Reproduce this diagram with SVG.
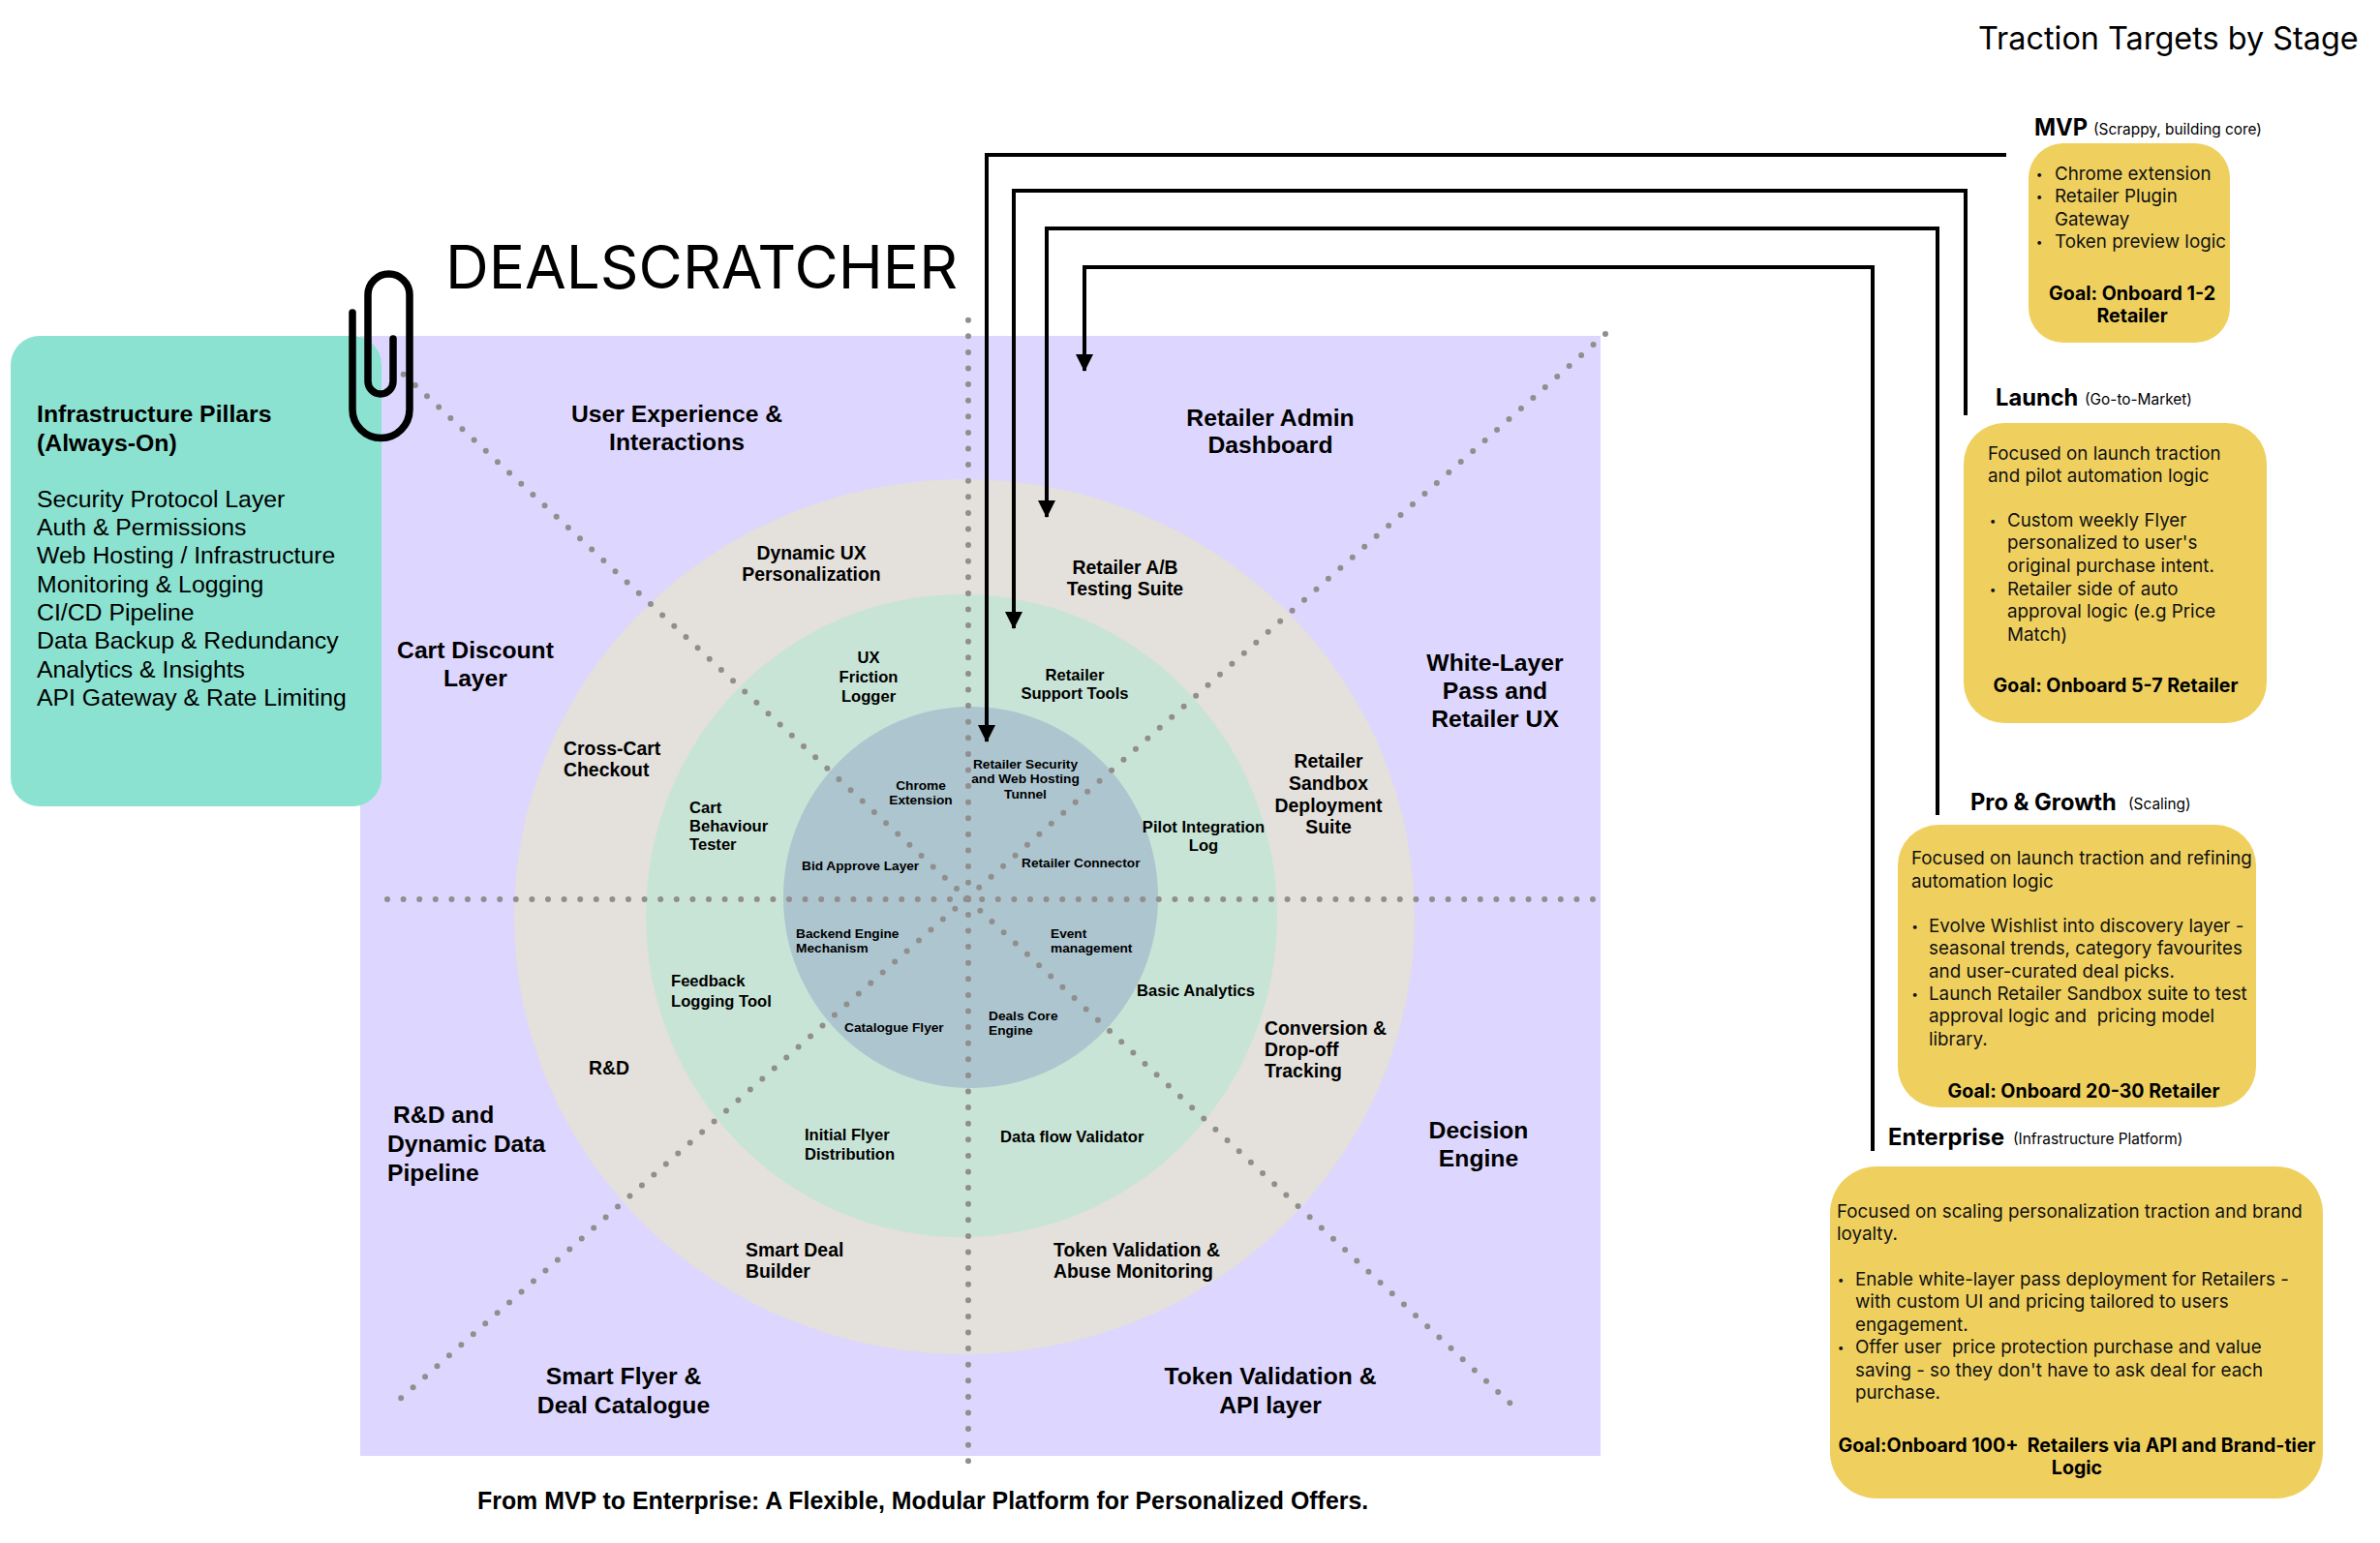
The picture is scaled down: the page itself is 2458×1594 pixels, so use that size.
<svg xmlns="http://www.w3.org/2000/svg" width="2458" height="1594" viewBox="0 0 2458 1594">
<defs>
<marker id="arr" markerUnits="userSpaceOnUse" markerWidth="18" markerHeight="18" refX="17" refY="9" orient="auto"><path d="M0 0L18 9L0 18Z" fill="#000"/></marker>
</defs>
<style>
text{font-family:"Liberation Sans",Arial,sans-serif;fill:#000}
.b{font-weight:700}
.m{text-anchor:middle}
.q{font-size:24.7px;font-weight:700}
.r1{font-size:19.4px;font-weight:700}
.r2{font-size:16.6px;font-weight:700}
.r3{font-size:13.7px;font-weight:700}
.p{font-size:24.8px}
.y{font-family:Inter,"Liberation Sans",sans-serif;font-size:18.8px;fill:#111}
.bu{font-family:Inter,"Liberation Sans",sans-serif;font-size:12px;text-anchor:middle;fill:#111}
.yb{font-family:Inter,"Liberation Sans",sans-serif;font-size:19.6px;font-weight:700;fill:#000}
.h{font-family:Inter,"Liberation Sans",sans-serif;font-size:23.7px;font-weight:700}
.s{font-family:Inter,"Liberation Sans",sans-serif;font-size:15.4px}
.t{font-family:Inter,"Liberation Sans",sans-serif}
.dot{stroke:#918e8e;stroke-width:6;stroke-linecap:round;stroke-dasharray:0 16.6;fill:none}
.con{stroke:#000;stroke-width:4;fill:none}
.card{fill:#EFD05F}
</style>
<rect id="bg" x="372" y="347" width="1281" height="1157" fill="#DDD6FE"/>
<g id="rings">
<ellipse cx="996" cy="947" rx="465" ry="452" fill="#E4E0DB"/>
<ellipse cx="993" cy="946" rx="326" ry="332" fill="#C8E4D6"/>
<ellipse cx="1002.5" cy="927" rx="193.5" ry="197" fill="#ACC5CF"/>
</g>
<g id="spokes">
<path class="dot" d="M1000 330.7V1510"/>
<path class="dot" d="M400 929H1650"/>
<path class="dot" d="M416.7 386.7L1560 1450"/>
<path class="dot" d="M1658 345L410 1448"/>
</g>
<g id="connectors">
<path class="con" marker-end="url(#arr)" d="M2072 160H1019V766"/>
<path class="con" marker-end="url(#arr)" d="M2030 429V197H1047V649"/>
<path class="con" marker-end="url(#arr)" d="M2001 842V236H1081V534"/>
<path class="con" marker-end="url(#arr)" d="M1934 1189V276H1120V383"/>
</g>
<text id="title" class="t" x="460" y="298" font-size="62">DEALSCRATCHER</text>
<text id="title2" class="t" x="2043" y="51" font-size="32.4">Traction Targets by Stage</text>
<g id="infra">
<rect x="11" y="347" width="383" height="486" rx="30" fill="#8BE2D0"/>
<text class="p b" x="38" y="436">Infrastructure Pillars</text>
<text class="p b" x="38" y="466">(Always-On)</text>
<text class="p" x="38" y="524">Security Protocol Layer</text>
<text class="p" x="38" y="553">Auth &amp; Permissions</text>
<text class="p" x="38" y="582">Web Hosting / Infrastructure</text>
<text class="p" x="38" y="612">Monitoring &amp; Logging</text>
<text class="p" x="38" y="641">CI/CD Pipeline</text>
<text class="p" x="38" y="670">Data Backup &amp; Redundancy</text>
<text class="p" x="38" y="700">Analytics &amp; Insights</text>
<text class="p" x="38" y="729">API Gateway &amp; Rate Limiting</text>
</g>
<path id="clip" d="M364 323V423a29.5 29.5 0 0 0 59 0V304.5a21.5 21.5 0 0 0-43 0V394a13 13 0 0 0 26 0V350" fill="none" stroke="#000" stroke-width="7.5" stroke-linecap="round"/>
<g id="quadrants">
<text class="q m" x="699" y="436">User Experience &amp;</text><text class="q m" x="699" y="465">Interactions</text>
<text class="q m" x="1312" y="440">Retailer Admin</text><text class="q m" x="1312" y="468">Dashboard</text>
<text class="q m" x="491" y="680">Cart Discount</text><text class="q m" x="491" y="709">Layer</text>
<text class="q m" x="1544" y="693">White-Layer</text><text class="q m" x="1544" y="722">Pass and</text><text class="q m" x="1544" y="751">Retailer UX</text>
<text class="q" x="406" y="1160">R&amp;D and</text><text class="q" x="400" y="1190">Dynamic Data</text><text class="q" x="400" y="1220">Pipeline</text>
<text class="q m" x="1527" y="1176">Decision</text><text class="q m" x="1527" y="1205">Engine</text>
<text class="q m" x="644" y="1430">Smart Flyer &amp;</text><text class="q m" x="644" y="1460">Deal Catalogue</text>
<text class="q m" x="1312" y="1430">Token Validation &amp;</text><text class="q m" x="1312" y="1460">API layer</text>
</g>
<g id="ring-outer">
<text class="r1 m" x="838" y="578">Dynamic UX</text><text class="r1 m" x="838" y="600">Personalization</text>
<text class="r1 m" x="1162" y="593">Retailer A/B</text><text class="r1 m" x="1162" y="615">Testing Suite</text>
<text class="r1" x="582" y="780">Cross-Cart</text><text class="r1" x="582" y="802">Checkout</text>
<text class="r1 m" x="1372" y="793">Retailer</text><text class="r1 m" x="1372" y="816">Sandbox</text><text class="r1 m" x="1372" y="839">Deployment</text><text class="r1 m" x="1372" y="861">Suite</text>
<text class="r1" x="608" y="1110">R&amp;D</text>
<text class="r1" x="1306" y="1069">Conversion &amp;</text><text class="r1" x="1306" y="1091">Drop-off</text><text class="r1" x="1306" y="1113">Tracking</text>
<text class="r1" x="770" y="1298">Smart Deal</text><text class="r1" x="770" y="1320">Builder</text>
<text class="r1" x="1088" y="1298">Token Validation &amp;</text><text class="r1" x="1088" y="1320">Abuse Monitoring</text>
</g>
<g id="ring-middle">
<text class="r2 m" x="897" y="685">UX</text><text class="r2 m" x="897" y="705">Friction</text><text class="r2 m" x="897" y="725">Logger</text>
<text class="r2 m" x="1110" y="703">Retailer</text><text class="r2 m" x="1110" y="722">Support Tools</text>
<text class="r2" x="712" y="840">Cart</text><text class="r2" x="712" y="859">Behaviour</text><text class="r2" x="712" y="878">Tester</text>
<text class="r2 m" x="1243" y="860">Pilot Integration</text><text class="r2 m" x="1243" y="879">Log</text>
<text class="r2" x="693" y="1019">Feedback</text><text class="r2" x="693" y="1040">Logging Tool</text>
<text class="r2" x="1174" y="1029">Basic Analytics</text>
<text class="r2" x="831" y="1178">Initial Flyer</text><text class="r2" x="831" y="1198">Distribution</text>
<text class="r2" x="1033" y="1180">Data flow Validator</text>
</g>
<g id="ring-inner">
<text class="r3 m" x="951" y="816">Chrome</text><text class="r3 m" x="951" y="831">Extension</text>
<text class="r3 m" x="1059" y="794">Retailer Security</text><text class="r3 m" x="1059" y="809">and Web Hosting</text><text class="r3 m" x="1059" y="825">Tunnel</text>
<text class="r3" x="828" y="899">Bid Approve Layer</text>
<text class="r3" x="1055" y="896">Retailer Connector</text>
<text class="r3" x="822" y="969">Backend Engine</text><text class="r3" x="822" y="984">Mechanism</text>
<text class="r3" x="1085" y="969">Event</text><text class="r3" x="1085" y="984">management</text>
<text class="r3" x="872" y="1066">Catalogue Flyer</text>
<text class="r3" x="1021" y="1054">Deals Core</text><text class="r3" x="1021" y="1069">Engine</text>
</g>
<g id="stage-mvp">
<text class="h" x="2101" y="140">MVP</text><text class="s" x="2162" y="139">(Scrappy, building core)</text>
<rect class="card" x="2095" y="148" width="208" height="206" rx="36"/>
<text class="bu" x="2106" y="184">•</text><text class="y" x="2122" y="186">Chrome extension</text>
<text class="bu" x="2106" y="207">•</text><text class="y" x="2122" y="209">Retailer Plugin</text>
<text class="y" x="2122" y="233">Gateway</text>
<text class="bu" x="2106" y="254">•</text><text class="y" x="2122" y="256">Token preview logic</text>
<text class="yb m" x="2202" y="310">Goal: Onboard 1-2</text><text class="yb m" x="2202" y="333">Retailer</text>
</g>
<g id="stage-launch">
<text class="h" x="2061" y="419">Launch</text><text class="s" x="2153" y="418">(Go-to-Market)</text>
<rect class="card" x="2028" y="437" width="313" height="310" rx="42"/>
<text class="y" x="2053" y="475">Focused on launch traction</text><text class="y" x="2053" y="498">and pilot automation logic</text>
<text class="bu" x="2058" y="542">•</text><text class="y" x="2073" y="544">Custom weekly Flyer</text>
<text class="y" x="2073" y="567">personalized to user's</text>
<text class="y" x="2073" y="591">original purchase intent.</text>
<text class="bu" x="2058" y="613">•</text><text class="y" x="2073" y="615">Retailer side of auto</text>
<text class="y" x="2073" y="638">approval logic (e.g Price</text>
<text class="y" x="2073" y="662">Match)</text>
<text class="yb m" x="2185" y="715">Goal: Onboard 5-7 Retailer</text>
</g>
<g id="stage-pro">
<text class="h" x="2035" y="837">Pro &amp; Growth</text><text class="s" x="2198" y="836">(Scaling)</text>
<rect class="card" x="1960" y="852" width="370" height="292" rx="42"/>
<text class="y" x="1974" y="893">Focused on launch traction and refining</text><text class="y" x="1974" y="917">automation logic</text>
<text class="bu" x="1977.5" y="961">•</text><text class="y" x="1992" y="963">Evolve Wishlist into discovery layer -</text>
<text class="y" x="1992" y="986">seasonal trends, category favourites</text>
<text class="y" x="1992" y="1010">and user-curated deal picks.</text>
<text class="bu" x="1977.5" y="1031">•</text><text class="y" x="1992" y="1033">Launch Retailer Sandbox suite to test</text>
<text class="y" x="1992" y="1056" xml:space="preserve">approval logic and  pricing model</text>
<text class="y" x="1992" y="1080">library.</text>
<text class="yb m" x="2152" y="1134">Goal: Onboard 20-30 Retailer</text>
</g>
<g id="stage-enterprise">
<text class="h" x="1950" y="1183">Enterprise</text><text class="s" x="2079" y="1182">(Infrastructure Platform)</text>
<rect class="card" x="1890" y="1205" width="509" height="343" rx="48"/>
<text class="y" x="1897" y="1258">Focused on scaling personalization traction and brand</text><text class="y" x="1897" y="1281">loyalty.</text>
<text class="bu" x="1901" y="1326">•</text><text class="y" x="1916" y="1328">Enable white-layer pass deployment for Retailers -</text>
<text class="y" x="1916" y="1351">with custom UI and pricing tailored to users</text>
<text class="y" x="1916" y="1375">engagement.</text>
<text class="bu" x="1901" y="1396">•</text><text class="y" x="1916" y="1398" xml:space="preserve">Offer user  price protection purchase and value</text>
<text class="y" x="1916" y="1422">saving - so they don't have to ask deal for each</text>
<text class="y" x="1916" y="1445">purchase.</text>
<text class="yb m" x="2145" y="1500" xml:space="preserve">Goal:Onboard 100+  Retailers via API and Brand-tier</text><text class="yb m" x="2145" y="1523">Logic</text>
</g>
<text id="footer" class="q" x="493" y="1559" style="font-size:24.9px">From MVP to Enterprise: A Flexible, Modular Platform for Personalized Offers.</text>
</svg>
